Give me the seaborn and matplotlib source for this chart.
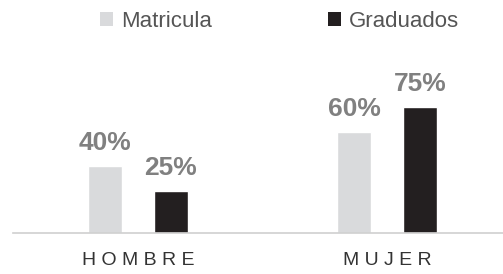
import matplotlib
matplotlib.use("Agg")
import matplotlib.pyplot as plt
import seaborn as sns
import pandas as pd
from matplotlib.patches import Patch

categories = ["HOMBRE", "MUJER"]
series = ["Matricula", "Graduados"]
matricula = [40, 60]
graduados = [25, 75]
colors = ["#d9dadc", "#231f20"]

df = pd.DataFrame({
    "sexo": categories * 2,
    "serie": [series[0]] * 2 + [series[1]] * 2,
    "valor": matricula + graduados,
})

sns.set_theme(style="white")
plt.rcParams["font.family"] = ["Liberation Sans", "DejaVu Sans"]

fig = plt.figure(figsize=(5.03, 2.74), dpi=100)
ax = fig.add_axes([13 / 503, (274 - 233) / 274, 490 / 503, 168 / 274])

sns.barplot(data=df, x="sexo", y="valor", hue="serie", order=categories,
            hue_order=series, palette=colors, width=0.53, gap=0.48,
            saturation=1, ax=ax, legend=False)

ax.set_xlim(-0.502, 1.466)
ax.set_ylim(0, 100)
ax.set_xlabel("")
ax.set_ylabel("")
ax.set_yticks([])
for s in ["top", "right", "left"]:
    ax.spines[s].set_visible(False)
ax.spines["bottom"].set_color("#cfcfcf")
ax.spines["bottom"].set_linewidth(1.2)

ax.set_xticks(range(len(categories)))
ax.set_xticklabels([" ".join(c) for c in categories], fontsize=14, color="#333333")
ax.tick_params(axis="x", length=0, pad=14)

for cont in ax.containers:
    ax.bar_label(cont, labels=[f"{int(v)}%" for v in cont.datavalues],
                 padding=8, fontsize=19, fontweight="bold", color="#808080")

handles = [Patch(facecolor=c, edgecolor="none") for c in colors]
fig.legend(handles, series, loc="center", bbox_to_anchor=(0.556, 0.923), ncol=2,
           frameon=False, fontsize=16, handlelength=0.59, handleheight=0.59,
           handletextpad=0.36, columnspacing=5.2, labelcolor="#555555")

fig.savefig("out.png", dpi=100)
